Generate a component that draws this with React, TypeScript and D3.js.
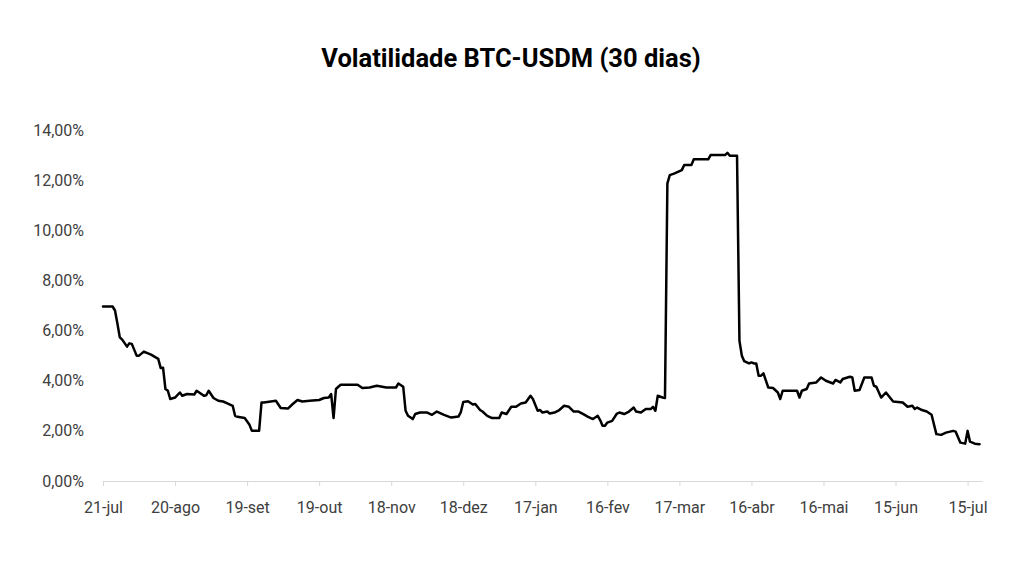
import React, { useEffect, useRef } from 'react'
import * as d3 from 'd3'

// days since 21-jul-2019
const dayOffsets = [
  0, 4, 5, 6, 7, 8, 10, 11, 12, 14, 15, 17, 20, 23, 24, 25, 26, 27, 28, 30,
  32, 33, 35, 38, 39, 42, 43, 44, 46, 48, 50, 52, 54, 55, 56, 59, 61, 62, 65, 66,
  67, 72, 74, 77, 79, 81, 83, 86, 90, 92, 94, 95, 96, 97, 98, 99, 106, 108, 111, 114,
  118, 122, 123, 125, 126, 127, 129, 130, 132, 135, 137, 139, 142, 145, 148, 149, 150, 152, 154, 155,
  157, 158, 160, 162, 165, 166, 168, 170, 172, 174, 176, 178, 179, 181, 182, 183, 185, 186, 188, 190,
  192, 194, 196, 198, 200, 202, 204, 206, 207, 208, 209, 210, 212, 214, 215, 217, 219, 221, 222, 224,
  226, 228, 229, 230, 231, 233, 234, 235, 236, 238, 241, 242, 245, 246, 252, 253, 259, 260, 261, 264,
  265, 266, 267, 269, 270, 271, 272, 273, 274, 275, 277, 279, 281, 282, 283, 289, 290, 291, 293, 294,
  297, 299, 301, 304, 305, 307, 308, 311, 312, 313, 315, 317, 320, 321, 322, 324, 326, 329, 333, 335,
  337, 338, 339, 341, 343, 345, 347, 349, 351, 354, 355, 357, 359, 360, 361, 363, 365
]

// 30-day volatility, percent
const volatility = [
  6.96, 6.96, 6.8, 6.28, 5.73, 5.64, 5.36, 5.49, 5.47, 5.0, 5.0, 5.16, 5.04, 4.87, 4.51, 4.52, 3.67, 3.6, 3.27, 3.33,
  3.53, 3.4, 3.47, 3.45, 3.6, 3.4, 3.42, 3.6, 3.31, 3.2, 3.17, 3.09, 3.0, 2.6, 2.56, 2.51, 2.24, 2.0, 2.0, 3.13,
  3.13, 3.2, 2.91, 2.89, 3.07, 3.23, 3.17, 3.2, 3.23, 3.31, 3.33, 3.47, 2.51, 3.67, 3.76, 3.84, 3.84, 3.71, 3.73, 3.8,
  3.73, 3.73, 3.89, 3.76, 2.8, 2.6, 2.47, 2.67, 2.73, 2.73, 2.64, 2.77, 2.64, 2.53, 2.57, 2.75, 3.15, 3.18, 3.05, 3.07,
  2.83, 2.77, 2.6, 2.51, 2.51, 2.73, 2.67, 2.96, 2.96, 3.09, 3.13, 3.4, 3.27, 2.8, 2.83, 2.73, 2.77, 2.69, 2.73, 2.83,
  3.0, 2.96, 2.77, 2.77, 2.67, 2.56, 2.47, 2.6, 2.43, 2.2, 2.2, 2.33, 2.4, 2.69, 2.73, 2.67, 2.77, 2.93, 2.77, 2.73,
  2.87, 2.87, 2.96, 2.8, 3.4, 3.33, 3.31, 11.87, 12.2, 12.27, 12.4, 12.6, 12.6, 12.83, 12.83, 13.0, 13.0, 13.09, 12.97, 12.97,
  5.6, 5.0, 4.78, 4.69, 4.73, 4.69, 4.69, 4.2, 4.2, 4.29, 3.73, 3.71, 3.53, 3.27, 3.6, 3.6, 3.33, 3.6, 3.67, 3.89,
  3.93, 4.13, 4.0, 3.89, 4.03, 3.93, 4.07, 4.16, 4.13, 3.6, 3.63, 4.13, 4.13, 3.8, 3.76, 3.33, 3.53, 3.17, 3.13, 2.96,
  3.0, 2.87, 2.93, 2.83, 2.77, 2.64, 1.87, 1.84, 1.93, 2.0, 1.97, 1.53, 1.49, 2.0, 1.57, 1.49, 1.47
]

const tickDays = [0, 30, 60, 90, 120, 150, 180, 210, 240, 270, 300, 330, 360]
const tickLabels = [
  '21-jul', '20-ago', '19-set', '19-out', '18-nov', '18-dez', '17-jan',
  '16-fev', '17-mar', '16-abr', '16-mai', '15-jun', '15-jul'
]
const yTicks = [0, 2, 4, 6, 8, 10, 12, 14]

const App: React.FC = () => {
  const svgRef = useRef<SVGSVGElement>(null)

  useEffect(() => {
    if (!svgRef.current) return
    const svg = d3.select(svgRef.current)
    svg.selectAll('*').remove()

    const width = 1024
    const height = 576
    const margin = { top: 130, right: 42, bottom: 95, left: 103 }
    const font = 'Roboto, "Noto Sans", sans-serif'

    svg.attr('width', width).attr('height', height)

    const x = d3.scaleLinear()
      .domain([0, 366])
      .range([margin.left, width - margin.right])

    const y = d3.scaleLinear()
      .domain([0, 14])
      .range([height - margin.bottom, margin.top])

    // Title
    svg.append('text')
      .attr('x', 511)
      .attr('y', 67)
      .attr('text-anchor', 'middle')
      .style('font-family', font)
      .style('font-size', '25.5px')
      .style('font-weight', 'bold')
      .style('fill', '#000')
      .text('Volatilidade BTC-USDM (30 dias)')

    // X axis
    const xAxis = svg.append('g')
      .attr('transform', `translate(0,${y(0)})`)
      .call(
        d3.axisBottom(x)
          .tickValues(tickDays)
          .tickSize(5)
          .tickSizeOuter(0)
          .tickFormat((d, i) => tickLabels[i])
      )
    xAxis.select('.domain').attr('stroke', '#d9d9d9')
    xAxis.selectAll('.tick line').attr('stroke', '#d9d9d9')
    xAxis.selectAll('.tick text')
      .attr('y', 21)
      .attr('dy', '0.71em')
      .style('font-family', font)
      .style('font-size', '16px')
      .style('fill', '#404040')

    // Y axis labels only
    const yAxis = svg.append('g')
      .attr('transform', `translate(${margin.left},0)`)
      .call(
        d3.axisLeft(y)
          .tickValues(yTicks)
          .tickSize(0)
          .tickPadding(19)
          .tickFormat(d => `${(d as number).toFixed(2).replace('.', ',')}%`)
      )
    yAxis.select('.domain').remove()
    yAxis.selectAll('.tick text')
      .style('font-family', font)
      .style('font-size', '16px')
      .style('fill', '#404040')

    // Line
    const points: [number, number][] = dayOffsets.map((d, i) => [d, volatility[i]])
    const line = d3.line<[number, number]>()
      .x(d => x(d[0]))
      .y(d => y(d[1]))

    svg.append('path')
      .datum(points)
      .attr('d', line)
      .attr('fill', 'none')
      .attr('stroke', '#000')
      .attr('stroke-width', 2.5)
      .attr('stroke-linejoin', 'round')
      .attr('stroke-linecap', 'round')
  }, [])

  return (
    <div style={{ position: 'absolute', left: 0, top: 0, background: '#fff' }}>
      <svg ref={svgRef}></svg>
    </div>
  )
}

export default App
